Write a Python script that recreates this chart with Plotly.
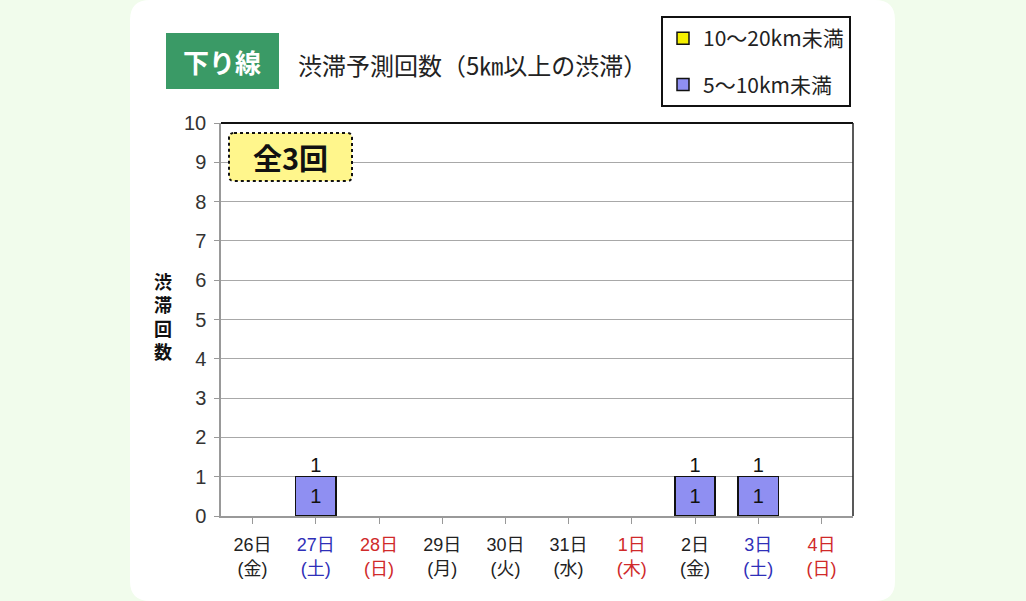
import plotly.graph_objects as go

# ---- data ----
days = ["26日", "27日", "28日", "29日", "30日", "31日", "1日", "2日", "3日", "4日"]
weekdays = ["金", "土", "日", "月", "火", "水", "木", "金", "土", "日"]
day_kind = ["平", "土", "休", "平", "平", "平", "休", "平", "土", "休"]
series_5_10 = [0, 1, 0, 0, 0, 0, 0, 1, 1, 0]      # 5～10km未満
series_10_20 = [0, 0, 0, 0, 0, 0, 0, 0, 0, 0]     # 10～20km未満
series_names = ["5～10km未満", "10～20km未満"]
total_label = "全3回"
title_tag = "下り線"
title_text = "渋滞予測回数（5㎞以上の渋滞）"
y_title = "渋滞回数"

FONT = "Noto Sans CJK JP"
LFONT = "Liberation Sans, Noto Sans CJK JP"
kind_color = {"平": "#222222", "土": "#2f2fb8", "休": "#d02a2a"}

# pixel layout helpers
W_FIG, H_FIG = 1026, 601
L, R, T, B = 221, 853, 123, 516
PW, PH = R - L, B - T
def px(x):
    return (x - L) / PW
def py(y):
    return (B - y) / PH

x_idx = list(range(len(days)))
ticktext = [
    f"<span style='color:{kind_color[k]}'>{d}<br>({w})</span>"
    for d, w, k in zip(days, weekdays, day_kind)
]
totals = [a + b for a, b in zip(series_5_10, series_10_20)]

def bar_trace(vals, name, color, rank):
    return go.Bar(
        x=x_idx, y=[v if v else None for v in vals], name=name, legendgroup=name,
        legendrank=rank,
        marker=dict(color=color, line=dict(color="#111111", width=1.5)),
        width=0.64,
        text=[str(v) if v else "" for v in vals],
        textposition="inside", insidetextanchor="middle",
        textfont=dict(family=LFONT, size=20, color="#111111"),
        hoverinfo="skip",
    )

fig = go.Figure()
fig.add_trace(bar_trace(series_5_10, series_names[0], "#8f8ff2", 2))
fig.add_trace(bar_trace(series_10_20, series_names[1], "#f5f000", 1))
fig.add_trace(go.Scatter(
    x=[i for i, t in zip(x_idx, totals) if t],
    y=[t for t in totals if t],
    text=[str(t) for t in totals if t],
    mode="text", textposition="top center",
    textfont=dict(family=LFONT, size=20, color="#111111"),
    showlegend=False, hoverinfo="skip",
))

shapes = [
    # white rounded panel
    dict(type="path", xref="paper", yref="paper", layer="below",
         path=(f"M {px(150)} {py(0)} L {px(875)} {py(0)} "
               f"Q {px(895)} {py(0)} {px(895)} {py(20)} "
               f"L {px(895)} {py(581)} Q {px(895)} {py(601)} {px(875)} {py(601)} "
               f"L {px(150)} {py(601)} Q {px(130)} {py(601)} {px(130)} {py(581)} "
               f"L {px(130)} {py(20)} Q {px(130)} {py(0)} {px(150)} {py(0)} Z"),
         fillcolor="#ffffff", line=dict(width=0)),
    # plot border top / right
    dict(type="line", xref="paper", yref="paper", x0=0, x1=1, y0=1, y1=1,
         line=dict(color="#111111", width=2)),
    dict(type="line", xref="paper", yref="paper", x0=1, x1=1, y0=0, y1=1,
         line=dict(color="#222222", width=1.5)),
    # green title tag
    dict(type="rect", xref="paper", yref="paper",
         x0=px(166), x1=px(279), y0=py(89), y1=py(33),
         fillcolor="#3a9a66", line=dict(width=0)),
    # total box
    dict(type="path", xref="paper", yref="paper",
         path=(f"M {px(234)} {py(133)} L {px(347)} {py(133)} "
               f"Q {px(352)} {py(133)} {px(352)} {py(138)} "
               f"L {px(352)} {py(176)} Q {px(352)} {py(181)} {px(347)} {py(181)} "
               f"L {px(234)} {py(181)} Q {px(229)} {py(181)} {px(229)} {py(176)} "
               f"L {px(229)} {py(138)} Q {px(229)} {py(133)} {px(234)} {py(133)} Z"),
         fillcolor="#fff68c", line=dict(color="#111111", width=2, dash="dot")),
]

annotations = [
    dict(text=f"<b>{title_tag}</b>", x=px(222), y=py(61), xref="paper", yref="paper",
         showarrow=False, font=dict(family=FONT, size=26, color="#ffffff"),
         xanchor="center", yanchor="middle"),
    dict(text=title_text, x=px(296), y=py(65), xref="paper", yref="paper",
         showarrow=False, font=dict(family=FONT, size=24, color="#222222"),
         xanchor="left", yanchor="middle"),
    dict(text=f"<b>{total_label}</b>", x=px(290), y=py(157), xref="paper", yref="paper",
         showarrow=False, font=dict(family=FONT, size=29, color="#111111"),
         xanchor="center", yanchor="middle"),
    dict(text="<br>".join(f"<b>{c}</b>" for c in y_title), x=px(163), y=py(318),
         xref="paper", yref="paper", showarrow=False,
         font=dict(family=LFONT, size=18, color="#111111"),
         xanchor="center", yanchor="middle"),
]

fig.update_layout(
    width=W_FIG, height=H_FIG,
    margin=dict(l=L, r=W_FIG - R, t=T, b=H_FIG - B, pad=0),
    paper_bgcolor="#f1fcec", plot_bgcolor="#ffffff",
    barmode="stack", bargap=0.36,
    font=dict(family=FONT, color="#222222"),
    showlegend=True,
    legend=dict(
        x=px(661), y=py(16), xanchor="left", yanchor="top",
        xref="paper", yref="paper",
        traceorder="grouped", tracegroupgap=16,
        bgcolor="#ffffff", bordercolor="#111111", borderwidth=2,
        font=dict(family=FONT, size=21, color="#222222"),
        itemwidth=30,
    ),
    xaxis=dict(
        range=[-0.5, len(days) - 0.5], tickmode="array", tickvals=x_idx, ticktext=ticktext,
        tickfont=dict(family=LFONT, size=18),
        ticks="outside", tickson="boundaries", ticklen=6, tickcolor="#999999",
        ticklabelstandoff=6,
        showline=True, linecolor="#999999", linewidth=1.5,
        showgrid=False, zeroline=False, fixedrange=True,
    ),
    yaxis=dict(
        range=[0, 10], dtick=1, tick0=0,
        tickfont=dict(family="Liberation Sans", size=20, color="#333333"),
        ticks="outside", ticklen=5, tickcolor="#999999",
        showline=True, linecolor="#999999", linewidth=1.5,
        showgrid=True, gridcolor="#a8a8a8", gridwidth=1,
        zeroline=False, ticklabelstandoff=4, fixedrange=True,
    ),
    shapes=shapes,
    annotations=annotations,
)

fig.write_html("out.html", config={"displayModeBar": False},
               post_script="document.body.style.margin='0';")
